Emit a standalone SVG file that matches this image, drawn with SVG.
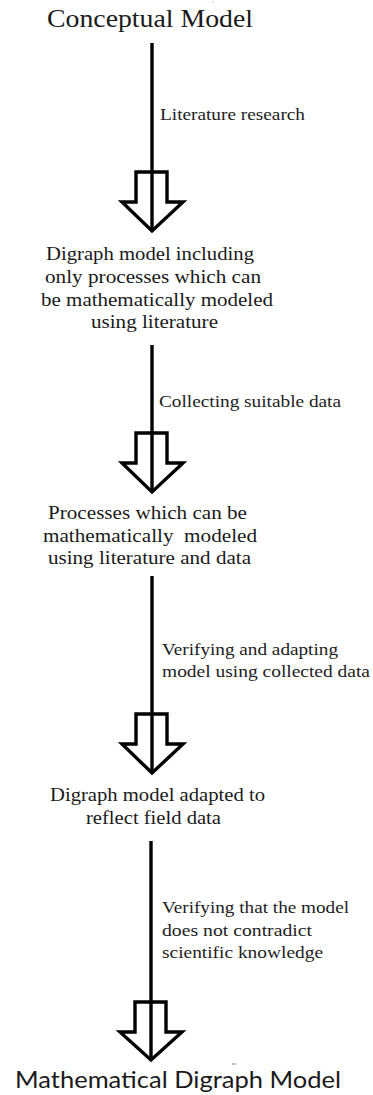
<svg xmlns="http://www.w3.org/2000/svg" width="373" height="1095" viewBox="0 0 373 1095">
<style>
.title{font-family:"Liberation Serif","DejaVu Serif",serif;font-size:26px;fill:#1a1a1a;}
.title2{font-family:Lato,"Open Sans","Liberation Sans",sans-serif;font-size:23px;fill:#1a1a1a;}
.node{font-family:"Liberation Serif","DejaVu Serif",serif;font-size:19px;fill:#1a1a1a;white-space:pre;}
.lbl{font-family:"Liberation Serif","DejaVu Serif",serif;font-size:17px;fill:#222;}
.line{stroke:#000;stroke-width:3.4;fill:none;}
.head{stroke:#000;stroke-width:3.4;fill:#fff;stroke-linejoin:miter;stroke-miterlimit:10;}
</style>
<rect width="373" height="1095" fill="#fff"/>
<g id="connectors">
  <g id="edge1">
    <polygon class="head" points="136,172 167,172 167,202 183,202 152,231 122,202 136,202"/>
    <line class="line" x1="152" y1="43" x2="152" y2="231"/>
    <text class="lbl" x="160" y="120" textLength="145" lengthAdjust="spacingAndGlyphs">Literature research</text>
  </g>
  <g id="edge2">
    <polygon class="head" points="136,433 167,433 167,463 183,463 152,492 122,463 136,463"/>
    <line class="line" x1="152" y1="345" x2="152" y2="492"/>
    <text class="lbl" x="159" y="407" textLength="182" lengthAdjust="spacingAndGlyphs">Collecting suitable data</text>
  </g>
  <g id="edge3">
    <polygon class="head" points="136,714 167,714 167,744 183,744 152,773 122,744 136,744"/>
    <line class="line" x1="152" y1="576" x2="152" y2="773"/>
    <text class="lbl" x="162" y="655" textLength="176" lengthAdjust="spacingAndGlyphs">Verifying and adapting</text>
    <text class="lbl" x="162" y="677" textLength="208" lengthAdjust="spacingAndGlyphs">model using collected data</text>
  </g>
  <g id="edge4">
    <polygon class="head" points="135,1002 166,1002 166,1032 182,1032 151,1060 120,1032 135,1032"/>
    <line class="line" x1="151" y1="841" x2="151" y2="1060"/>
    <text class="lbl" x="162" y="913" textLength="187" lengthAdjust="spacingAndGlyphs">Verifying that the model</text>
    <text class="lbl" x="162" y="936" textLength="150" lengthAdjust="spacingAndGlyphs">does not contradict</text>
    <text class="lbl" x="162" y="958" textLength="161" lengthAdjust="spacingAndGlyphs">scientific knowledge</text>
  </g>
</g>
<g id="node-conceptual">
  <text class="title" x="47" y="27" textLength="206" lengthAdjust="spacingAndGlyphs">Conceptual Model</text>
</g>
<g id="node-digraph-literature">
  <text class="node" x="46" y="260" textLength="208" lengthAdjust="spacingAndGlyphs">Digraph model including</text>
  <text class="node" x="45" y="283" textLength="216" lengthAdjust="spacingAndGlyphs">only processes which can</text>
  <text class="node" x="41" y="305.5" textLength="232" lengthAdjust="spacingAndGlyphs">be mathematically modeled</text>
  <text class="node" x="91" y="328" textLength="127" lengthAdjust="spacingAndGlyphs">using literature</text>
</g>
<g id="node-processes">
  <text class="node" x="48" y="519" textLength="199" lengthAdjust="spacingAndGlyphs">Processes which can be</text>
  <text class="node" x="43" y="542" textLength="214" lengthAdjust="spacingAndGlyphs">mathematically  modeled</text>
  <text class="node" x="48" y="564" textLength="203" lengthAdjust="spacingAndGlyphs">using literature and data</text>
</g>
<g id="node-adapted">
  <text class="node" x="50" y="801" textLength="215" lengthAdjust="spacingAndGlyphs">Digraph model adapted to</text>
  <text class="node" x="86" y="824" textLength="135" lengthAdjust="spacingAndGlyphs">reflect field data</text>
</g>
<g id="node-mathematical">
  <text class="title2" x="15" y="1088" textLength="326" lengthAdjust="spacingAndGlyphs">Mathematical Digraph Model</text>
</g>
<rect x="232" y="1063.5" width="4" height="1" fill="#888"/>
<rect x="212.5" y="1.5" width="1.5" height="1.5" fill="#ccc"/>
</svg>
